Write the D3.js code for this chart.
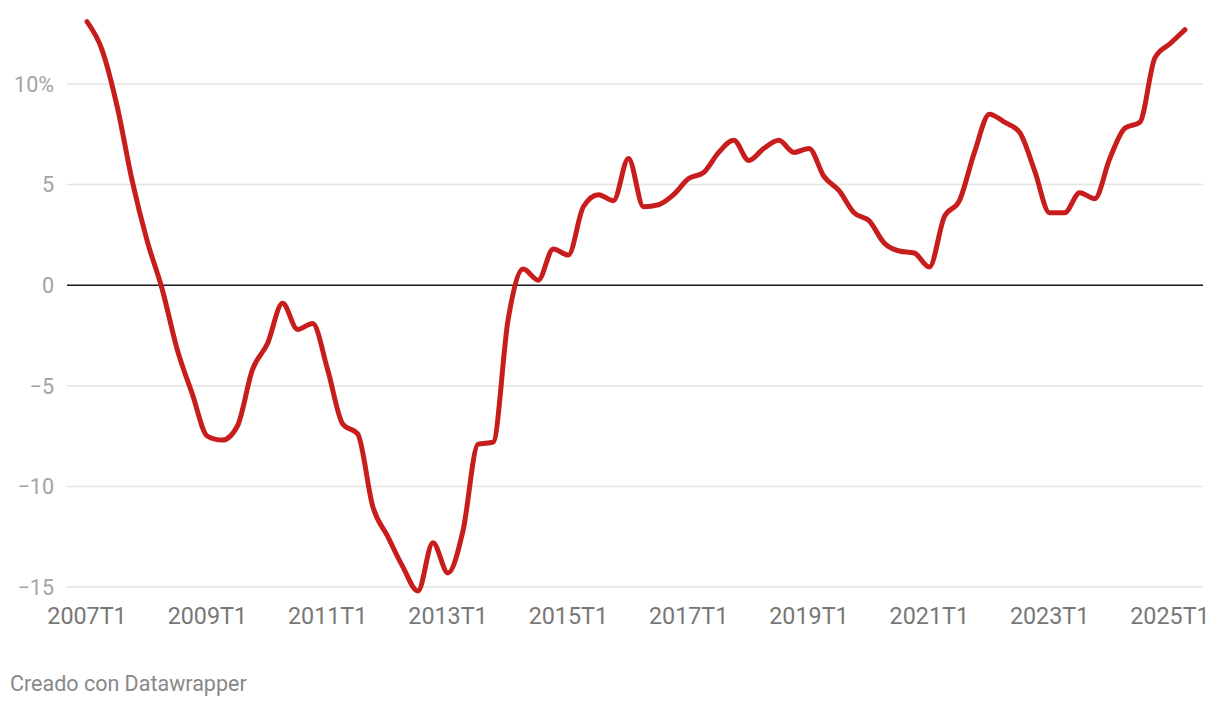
<!DOCTYPE html>
<html>
<head>
<meta charset="utf-8">
<script src="https://cdn.jsdelivr.net/npm/d3@7"></script>
<style>
  body { margin: 0; background: #fff; }
  text { font-family: Roboto, "Noto Sans", sans-serif; }
</style>
</head>
<body>
<svg id="chart"></svg>
<script>
// quarters 2007T1 .. 2025T2
const startYear = 2007;
const values = [
  13.1, 11.7, 8.9, 5.2, 2.2, -0.2, -3.2, -5.4, -7.5, -7.7,
  -7.0, -4.2, -2.9, -0.9, -2.2, -1.9, -4.2, -6.9, -7.4, -11.0,
  -12.5, -14.0, -15.2, -12.8, -14.3, -12.2, -7.9, -7.8, -1.7, 0.8,
  0.25, 1.8, 1.5, 3.9, 4.5, 4.2, 6.3, 3.9, 4.0, 4.5,
  5.3, 5.6, 6.6, 7.2, 6.2, 6.8, 7.2, 6.6, 6.8, 5.4,
  4.7, 3.6, 3.2, 2.1, 1.7, 1.6, 0.9, 3.4, 4.2, 6.6,
  8.5, 8.1, 7.6, 5.7, 3.6, 3.6, 4.6, 4.3, 6.3, 7.8,
  8.1, 11.3, 12.0, 12.7
];
const quarters = values.map((v, i) => (startYear + Math.floor(i / 4)) + "T" + (i % 4 + 1));
const yTicks = [10, 5, 0, -5, -10, -15];
const xTickLabels = ["2007T1", "2009T1", "2011T1", "2013T1", "2015T1", "2017T1", "2019T1", "2021T1", "2023T1", "2025T1"];

const width = 1220, height = 708;
const svg = d3.select("#chart")
    .attr("width", width)
    .attr("height", height)
    .attr("viewBox", [0, 0, width, height]);

const x = d3.scaleLinear()
    .domain([0, values.length - 1])
    .range([87, 1185]);

const y = d3.scaleLinear()
    .domain([-15, 10])
    .range([587, 84]);

// grid
svg.append("g")
    .selectAll("line")
    .data(yTicks.filter(d => d !== 0))
    .join("line")
    .attr("x1", 67)
    .attr("x2", 1203)
    .attr("y1", d => y(d))
    .attr("y2", d => y(d))
    .attr("stroke", "#e3e3e3")
    .attr("stroke-width", 1.5);

// y labels
svg.append("g")
    .selectAll("text")
    .data(yTicks)
    .join("text")
    .attr("x", 54)
    .attr("y", d => y(d))
    .attr("dy", "0.36em")
    .attr("text-anchor", "end")
    .attr("fill", "#a3a3a3")
    .attr("font-size", 21.5)
    .text(d => d === 10 ? "10%" : (d < 0 ? "\u2212" + Math.abs(d) : d));

// zero line
svg.append("line")
    .attr("x1", 67)
    .attr("x2", 1203)
    .attr("y1", y(0))
    .attr("y2", y(0))
    .attr("stroke", "#1a1a1a")
    .attr("stroke-width", 1.5);

// x labels
svg.append("g")
    .selectAll("text")
    .data(xTickLabels)
    .join("text")
    .attr("x", d => x(quarters.indexOf(d)))
    .attr("y", 624)
    .attr("text-anchor", "middle")
    .attr("fill", "#777")
    .attr("font-size", 23.3)
    .text(d => d);

const line = d3.line()
    .x((d, i) => x(i))
    .y(d => y(d))
    .curve(d3.curveMonotoneX);

svg.append("path")
    .datum(values)
    .attr("d", line)
    .attr("fill", "none")
    .attr("stroke", "#c71e1d")
    .attr("stroke-width", 5)
    .attr("stroke-linecap", "round")
    .attr("stroke-linejoin", "round");

svg.append("text")
    .attr("x", 10)
    .attr("y", 691)
    .attr("fill", "#888")
    .attr("font-size", 21.5)
    .text("Creado con Datawrapper");
</script>
</body>
</html>
